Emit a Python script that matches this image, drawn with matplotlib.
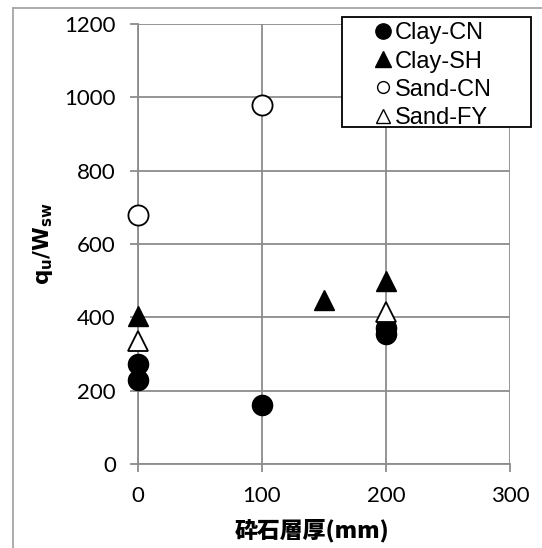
import matplotlib
matplotlib.use("Agg")
import matplotlib.pyplot as plt
from matplotlib.lines import Line2D
from matplotlib.patches import Rectangle

# Data
clay_cn_x = [0, 0, 100, 200, 200]
clay_cn_y = [272, 230, 160, 372, 355]
clay_sh_x = [0, 150, 200]
clay_sh_y = [405, 448, 500]
sand_cn_x = [0, 100]
sand_cn_y = [680, 980]
sand_fy_x = [0, 200]
sand_fy_y = [335, 414]
x_ticks = [0, 100, 200, 300]
y_ticks = [0, 200, 400, 600, 800, 1000, 1200]
series_names = ["Clay-CN", "Clay-SH", "Sand-CN", "Sand-FY"]

W, H = 542, 548
fig = plt.figure(figsize=(W / 100, H / 100), dpi=100)
ax = fig.add_axes([138 / W, 1 - 464 / H, 372 / W, 440 / H])

grid_c = "#8c8c8c"
ms = 14.5
ax.plot(clay_cn_x, clay_cn_y, "o", ms=ms, mfc="black", mec="black", clip_on=False, zorder=5)
ax.plot(clay_sh_x, clay_sh_y, "^", ms=ms, mfc="black", mec="black", clip_on=False, zorder=5)
ax.plot(sand_cn_x, sand_cn_y, "o", ms=ms, mfc="white", mec="black", mew=1.3, clip_on=False, zorder=5)
ax.plot(sand_fy_x, sand_fy_y, "^", ms=ms, mfc="white", mec="black", mew=1.3, clip_on=False, zorder=5)

ax.set_xlim(0, 300)
ax.set_ylim(0, 1200)
ax.set_xticks(x_ticks)
ax.set_yticks(y_ticks)
ax.grid(True, color=grid_c, linewidth=1.3)
ax.set_axisbelow(True)
for s in ["top", "right"]:
    ax.spines[s].set_visible(False)
for s in ["left", "bottom"]:
    ax.spines[s].set_color(grid_c)
    ax.spines[s].set_linewidth(1.3)
ax.tick_params(axis="both", direction="out", length=6, width=1.3, color=grid_c,
               labelsize=16, pad=10)
for lab in ax.get_xticklabels() + ax.get_yticklabels():
    lab.set_fontfamily("Lato")

ax.set_ylabel(r"$\mathbf{q_u/W_{sw}}$", fontsize=15.5)
ax.yaxis.label.set_fontfamily("Liberation Sans")
ax.yaxis.set_label_coords((55 - 138) / 372, 0.5)
ax.set_xlabel("砕石層厚(mm)", fontsize=16.5, fontweight="heavy",
              family=["Noto Sans CJK JP", "DejaVu Sans"])
ax.xaxis.set_label_coords((312 - 138) / 372, -(531 - 464) / 440)
ax.xaxis.label.set_va("center")

# Legend box
fig.add_artist(Rectangle((342 / W, 1 - 127 / H), (531 - 342) / W, (127 - 17) / H,
                         transform=fig.transFigure, facecolor="white",
                         edgecolor="black", lw=1.3, zorder=10))
handles = [
    Line2D([], [], ls="none", marker="o", ms=11, mfc="black", mec="black"),
    Line2D([], [], ls="none", marker="^", ms=11, mfc="black", mec="black"),
    Line2D([], [], ls="none", marker="o", ms=8.5, mfc="white", mec="black", mew=1),
    Line2D([], [], ls="none", marker="^", ms=9.5, mfc="white", mec="black", mew=1),
]
leg = fig.legend(handles, series_names, loc="upper left",
                 bbox_to_anchor=(364 / W, 1 - 13 / H), frameon=False,
                 handlelength=0.8, handletextpad=0.1, borderpad=0.4,
                 labelspacing=0.26, borderaxespad=0,
                 prop={"family": "Liberation Sans", "size": 17})
leg.set_zorder(11)

# Outer border
fig.add_artist(Line2D([13 / W, 13 / W], [0, 1 - 8 / H], color="#a6a6a6", lw=1.3))
fig.add_artist(Line2D([13 / W, 1], [1 - 8 / H, 1 - 8 / H], color="#a6a6a6", lw=1.3))

fig.savefig("out.png", dpi=100)
